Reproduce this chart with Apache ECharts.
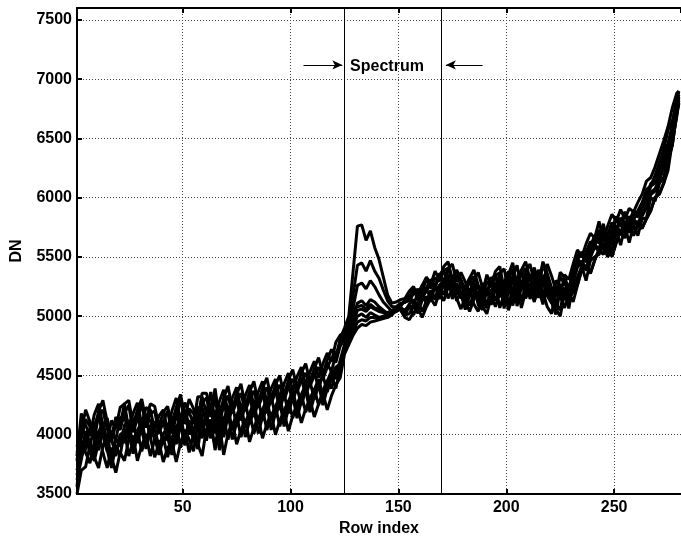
<!DOCTYPE html>
<html>
<head>
<meta charset="utf-8">
<script src="https://cdn.jsdelivr.net/npm/echarts@6.0.0/dist/echarts.min.js"></script>
<style>
  html, body { margin: 0; padding: 0; background: #fff; }
  #chart { width: 681px; height: 538px; }
</style>
</head>
<body>
<div id="chart"></div>
<script>
// row index of every sample (every second row, plus the last one)
const rows = [1,3,5,7,9,11,13,15,17,19,21,23,25,27,29,31,33,35,37,39,41,43,45,47,49,51,53,55,57,59,
  61,63,65,67,69,71,73,75,77,79,81,83,85,87,89,91,93,95,97,99,101,103,105,107,109,111,113,115,117,119,
  121,123,125,127,129,131,133,135,137,139,141,143,145,147,149,151,153,155,157,159,161,163,165,167,169,
  171,173,175,177,179,181,183,185,187,189,191,193,195,197,199,201,203,205,207,209,211,213,215,217,219,
  221,223,225,227,229,231,233,235,237,239,241,243,245,247,249,251,253,255,257,259,261,263,265,267,269,
  271,273,275,277,279,280];

// DN profiles, one per column
const profileA = [3900,
  4030,4210,4110,4020,4200,4290,4110,3980,4150,4080,4260,4290,4080,4210,4300,4120,4260,4240,4070,4190,
  4240,4070,4230,4340,4150,4300,4220,4120,4350,4350,4210,4390,4130,4310,4410,4220,4340,4430,4240,4360,
  4450,4270,4390,4480,4300,4420,4500,4330,4460,4550,4400,4520,4600,4450,4560,4650,4510,4630,4720,4650,4810,
  4900,5000,5380,5760,5770,5640,5720,5580,5480,5330,5180,5110,5120,5140,
  5150,5210,5250,5170,5260,5330,5270,5380,5310,5420,5460,5310,5390,5310,5220,5320,5390,5260,5200,5350,
  5260,5380,5420,5230,5350,5450,5250,5390,5460,5310,5410,5280,5460,5360,5240,5180,5370,5330,5230,
  5380,5510,5540,5480,5590,5680,5640,5780,5620,5740,5840,5780,5880,5800,5890,5860,5940,6010,6120,6150,
  6240,6350,6460,6610,6840,6900];
const profileB = [3850,
  3970,4130,4070,3960,4160,4210,4050,3940,4090,4040,4180,4250,4020,4130,4260,4060,4180,4200,4010,4110,
  4200,4010,4150,4300,4090,4220,4180,4060,4270,4310,4150,4310,4090,4250,4330,4180,4280,4350,4200,4300,
  4370,4230,4330,4400,4260,4360,4420,4290,4400,4470,4360,4460,4520,4410,4500,4570,4470,4570,4640,4610,4750,
  4850,4930,5180,5430,5450,5380,5470,5380,5320,5220,5130,5080,5080,5110,
  5115,5155,5235,5135,5205,5315,5235,5325,5295,5385,5405,5295,5355,5255,5205,5285,5335,5245,5165,5295,
  5245,5345,5365,5215,5315,5395,5235,5355,5405,5295,5375,5225,5445,5325,5185,5165,5335,5275,5215,
  5355,5485,5515,5455,5565,5655,5615,5755,5595,5715,5815,5755,5855,5775,5865,5835,5915,5985,6095,6125,
  6215,6325,6435,6595,6825,6890];
const profileC = [3780,
  4090,3990,3900,4080,4170,3990,3860,4030,3960,4140,4170,3960,4090,4180,4000,4140,4120,3950,4070,4120,
  3950,4110,4220,4030,4180,4100,4000,4230,4230,4090,4270,4010,4190,4290,4100,4220,4310,4120,4240,4330,
  4150,4270,4360,4180,4300,4380,4210,4340,4430,4280,4400,4480,4330,4440,4530,4390,4510,4600,4530,4690,4750,
  4800,4880,5070,5260,5280,5230,5300,5250,5180,5120,5080,5040,5040,5080,
  5140,5180,5100,5190,5260,5200,5310,5240,5350,5390,5240,5320,5240,5150,5250,5320,5190,5130,5280,5190,
  5310,5350,5160,5280,5380,5180,5320,5390,5240,5340,5210,5390,5290,5170,5110,5300,5260,5160,5220,
  5400,5490,5430,5540,5630,5590,5730,5570,5690,5790,5730,5830,5750,5840,5810,5890,5960,6070,6100,6190,
  6300,6410,6570,6650,6800,6870];
const profileD = [3700,
  3850,4030,3930,3840,4020,4110,3930,3800,3970,3900,4080,4110,3900,4030,4120,3940,4080,4060,3890,4010,
  4060,3890,4050,4160,3970,4120,4040,3940,4170,4170,4030,4210,3950,4130,4230,4040,4160,4250,4060,4180,
  4270,4090,4210,4300,4120,4240,4320,4150,4280,4370,4220,4340,4420,4270,4380,4470,4330,4450,4540,4470,4630,
  4760,4840,4990,5110,5130,5090,5140,5120,5080,5050,5020,5030,5040,5070,
  5040,5100,5140,5060,5150,5220,5160,5270,5200,5310,5350,5200,5280,5200,5110,5210,5280,5150,5090,5240,
  5150,5270,5310,5120,5240,5340,5140,5280,5350,5200,5300,5170,5350,5250,5130,5070,5260,5220,5120,
  5305,5435,5465,5405,5515,5605,5565,5705,5545,5665,5765,5705,5805,5725,5815,5785,5865,5935,6045,6075,
  6165,6275,6385,6545,6775,6850];
const profileE = [3620,
  3790,3990,3850,3780,3940,4070,3870,3720,3910,3820,4040,4030,3840,3990,4040,3880,4040,3980,3830,3970,
  3980,3830,4010,4080,3910,4080,3960,3880,4130,4090,3970,4170,3870,4070,4190,3960,4100,4210,3980,4120,
  4230,4010,4150,4260,4040,4180,4280,4070,4220,4330,4140,4280,4380,4190,4320,4430,4250,4390,4500,4390,4570,
  4720,4800,4910,5000,5020,4990,5030,5010,4990,5000,4990,5020,5050,5060,
  5005,5085,5085,5025,5135,5165,5125,5255,5145,5275,5335,5145,5245,5185,5055,5175,5265,5095,5055,5225,
  5095,5235,5295,5065,5205,5325,5085,5245,5335,5145,5265,5155,5295,5215,5115,5015,5225,5205,5065,
  5285,5415,5445,5385,5495,5585,5545,5685,5525,5645,5745,5685,5785,5705,5795,5765,5845,5915,6025,6055,
  6145,6255,6365,6525,6755,6840];
const profileF = [3500,
  3700,3730,3910,3810,3720,3900,3990,3810,3680,3850,3780,3960,3990,3780,3910,4000,3820,3960,3940,3770,
  3890,3940,3770,3930,4040,3850,4000,3920,3820,4050,4050,3910,4090,3830,4010,4110,3920,4040,4130,3940,
  4060,4150,3970,4090,4180,4000,4120,4200,4030,4160,4250,4100,4220,4300,4150,4260,4350,4210,4330,4420,4480,
  4680,4760,4840,4900,4930,4920,4950,4960,4970,4980,4990,5010,5060,5050,
  4990,4970,5030,5070,4990,5080,5150,5090,5200,5130,5240,5280,5130,5210,5130,5040,5140,5210,5080,5020,
  5170,5080,5200,5240,5050,5170,5270,5070,5210,5280,5130,5230,5100,5280,5180,5060,5000,5190,5150,
  5200,5265,5395,5425,5365,5475,5565,5525,5665,5505,5625,5725,5665,5765,5685,5775,5745,5825,5895,6005,
  6035,6125,6300,6450,6700,6820];
const profileG = [3820,
  4180,4080,3990,4170,4260,4080,3950,4120,4050,4230,4260,4050,4180,4270,4090,4230,4210,4040,4160,4210,
  4040,4200,4310,4120,4270,4190,4090,4320,4320,4180,4360,4100,4280,4380,4190,4310,4400,4210,4330,4420,
  4240,4360,4450,4270,4390,4470,4300,4430,4520,4370,4490,4570,4420,4530,4620,4480,4600,4690,4620,4780,4840,
  4860,4950,5050,5080,5090,5060,5100,5070,5060,5040,5030,5050,5070,5100,
  5120,5130,5190,5230,5150,5240,5310,5250,5360,5290,5400,5440,5290,5370,5290,5200,5300,5370,5240,5180,
  5330,5240,5360,5400,5210,5330,5430,5230,5370,5440,5290,5390,5260,5440,5340,5220,5160,5350,5310,
  5440,5560,5500,5610,5700,5660,5800,5640,5760,5860,5800,5900,5820,5910,5880,5960,6030,6140,6170,6260,
  6370,6480,6600,6760,6880,6900];
const profileH = [3660,
  3820,3880,4060,3960,3870,4050,4140,3960,3830,4000,3930,4110,4140,3930,4060,4150,3970,4110,4090,3920,
  4040,4090,3920,4080,4190,4000,4150,4070,3970,4200,4200,4060,4240,3980,4160,4260,4070,4190,4280,4090,
  4210,4300,4120,4240,4330,4150,4270,4350,4180,4310,4400,4250,4370,4450,4300,4410,4500,4360,4480,4570,4600,
  4740,4820,4940,5050,5060,5040,5080,5060,5040,5030,5010,5040,5060,5080,
  5010,5020,5080,5120,5040,5130,5200,5140,5250,5180,5290,5330,5180,5260,5180,5090,5190,5260,5130,5070,
  5220,5130,5250,5290,5100,5220,5320,5120,5260,5330,5180,5280,5150,5330,5230,5110,5050,5240,5200,
  5120,5260,5390,5420,5360,5470,5560,5520,5660,5500,5620,5720,5660,5760,5680,5770,5740,5820,5890,6000,
  6030,6120,6230,6480,6680,6800];
const profileI = [3560,
  3950,3850,3760,3940,4030,3850,3720,3890,3820,4000,4030,3820,3950,4040,3860,4000,3980,3810,3930,3980,
  3810,3970,4080,3890,4040,3960,3860,4090,4090,3950,4130,3870,4050,4150,3960,4080,4170,3980,4100,4190,
  4010,4130,4220,4040,4160,4240,4070,4200,4290,4140,4260,4340,4190,4300,4390,4250,4370,4460,4390,4550,4560,
  4700,4780,4870,4950,4970,4960,4990,4990,4980,4990,5000,5030,5040,5070,
  5050,5090,5010,5100,5170,5110,5220,5150,5260,5300,5150,5230,5150,5060,5160,5230,5100,5040,5190,5100,
  5220,5260,5070,5190,5290,5090,5230,5300,5150,5250,5120,5300,5200,5080,5020,5210,5170,5070,5180,
  5230,5330,5420,5300,5470,5500,5520,5600,5500,5560,5720,5600,5760,5620,5770,5680,5820,5830,6000,5970,
  6120,6170,6340,6440,6720,6790];

const profiles = [profileA, profileB, profileC, profileD, profileE, profileF, profileG, profileH, profileI];

// spectrum band limits (row index) and annotation anchors
const spectrumBounds = [125, 170];
const arrowLeft = [[106, 7120], [124, 7120]];
const arrowRight = [[189, 7120], [172, 7120]];
const spectrumLabelAt = [144.7, 7105];

const xRange = [1, 281];
const yRange = [3500, 7600];
const yStep = 500;

const font = 'Liberation Sans';
const labelStyle = { color: '#000', fontFamily: font, fontWeight: 'bold', fontSize: 16 };
const gridLine = { show: true, lineStyle: { color: '#444', width: 1, type: [1, 2] } };

const chart = echarts.init(document.getElementById('chart'), null, { renderer: 'canvas' });

const series = profiles.map(p => ({
  type: 'line',
  data: rows.map((r, j) => [r, p[j]]),
  showSymbol: false,
  symbol: 'none',
  silent: true,
  clip: true,
  lineStyle: { color: '#000', width: 3 },
  z: 3
}));

// vertical band limits
series[0].markLine = {
  silent: true,
  symbol: ['none', 'none'],
  label: { show: false },
  lineStyle: { color: '#000', width: 1, type: 'solid' },
  data: spectrumBounds.map(v => ({ xAxis: v }))
};

// arrows pointing at the band
series[1].markLine = {
  silent: true,
  symbol: ['none', 'arrow'],
  symbolSize: [7, 10],
  label: { show: false },
  lineStyle: { color: '#000', width: 1, type: 'solid' },
  data: [
    [{ coord: arrowLeft[0] }, { coord: arrowLeft[1] }],
    [{ coord: arrowRight[0] }, { coord: arrowRight[1] }]
  ]
};

series[2].markPoint = {
  silent: true,
  symbol: 'circle',
  symbolSize: 0,
  data: [{
    coord: spectrumLabelAt,
    label: {
      show: true,
      position: 'inside',
      formatter: 'Spectrum',
      color: '#000',
      fontFamily: font,
      fontWeight: 'bold',
      fontSize: 16
    }
  }]
};

const plain = v => String(v);

chart.setOption({
  animation: false,
  backgroundColor: '#fff',
  grid: { left: 77, right: 0, top: 8, bottom: 44, containLabel: false, outerBoundsMode: 'none' },
  xAxis: [{
    type: 'value',
    min: xRange[0],
    max: xRange[1],
    name: 'Row index',
    nameLocation: 'middle',
    nameGap: 18,
    nameTextStyle: labelStyle,
    axisLine: { show: true, lineStyle: { color: '#000', width: 2 } },
    axisTick: { show: true, inside: true, length: 5, lineStyle: { color: '#000', width: 2 } },
    axisLabel: Object.assign({ margin: 6, showMinLabel: false, showMaxLabel: false, formatter: plain }, labelStyle),
    splitLine: gridLine
  }, {
    type: 'value',
    position: 'top',
    min: xRange[0],
    max: xRange[1],
    axisLine: { show: true, lineStyle: { color: '#000', width: 2 } },
    axisTick: { show: true, inside: true, length: 5, lineStyle: { color: '#000', width: 2 } },
    axisLabel: { show: false },
    splitLine: { show: false }
  }],
  yAxis: {
    type: 'value',
    min: yRange[0],
    max: yRange[1],
    interval: yStep,
    name: 'DN',
    nameLocation: 'middle',
    nameGap: 52,
    nameTextStyle: labelStyle,
    axisLine: { show: true, lineStyle: { color: '#000', width: 2 } },
    axisTick: { show: true, inside: true, length: 5, lineStyle: { color: '#000', width: 2 } },
    axisLabel: Object.assign({ margin: 5, showMaxLabel: false, formatter: plain }, labelStyle),
    splitLine: gridLine
  },
  series: series
});
</script>
</body>
</html>
